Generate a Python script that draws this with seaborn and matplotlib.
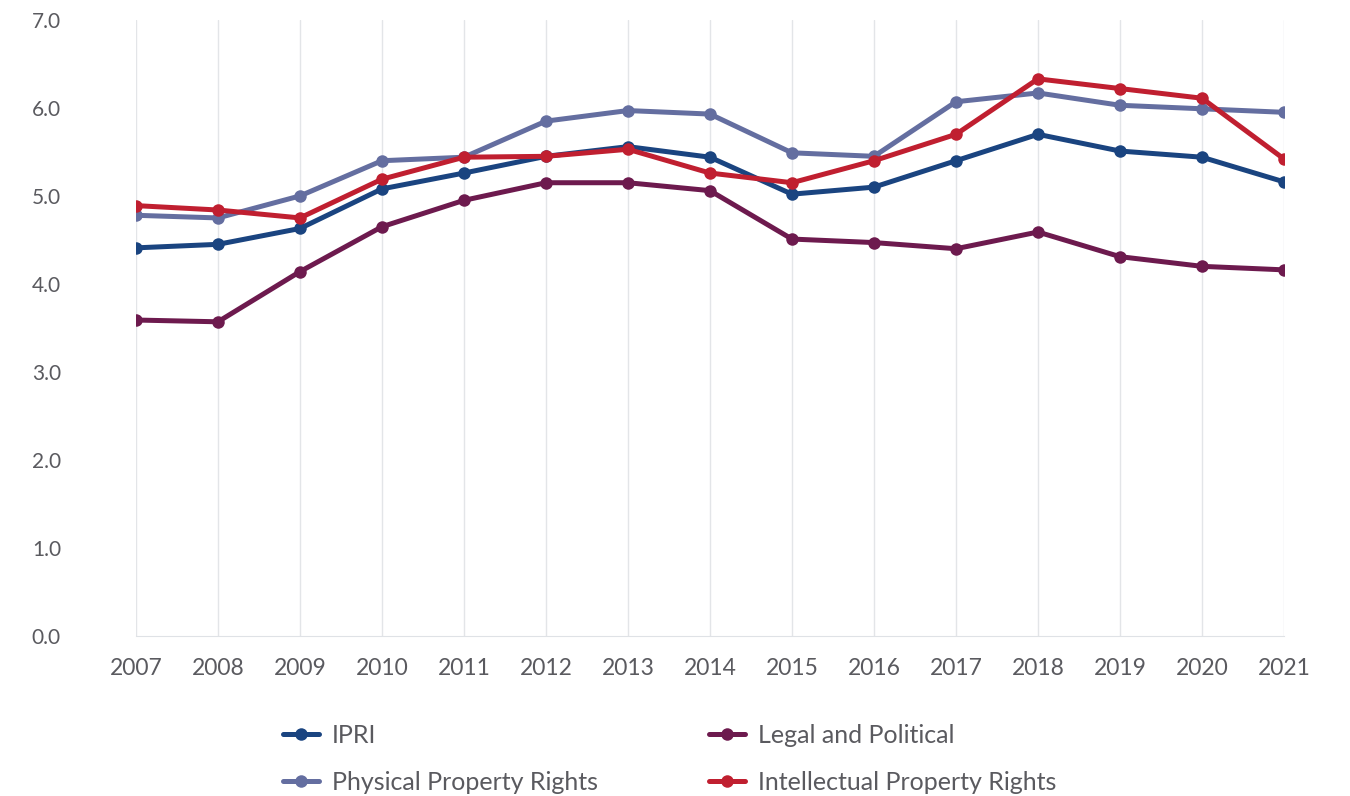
import matplotlib.pyplot as plt
import pandas as pd
import seaborn as sns

years = list(range(2007, 2022))
ipri = [4.41, 4.45, 4.63, 5.08, 5.26, 5.45, 5.56, 5.44, 5.02, 5.10, 5.40, 5.70, 5.51, 5.44, 5.16]
legal = [3.59, 3.57, 4.14, 4.65, 4.95, 5.15, 5.15, 5.06, 4.51, 4.47, 4.40, 4.59, 4.31, 4.20, 4.16]
physical = [4.78, 4.75, 5.00, 5.40, 5.44, 5.85, 5.97, 5.93, 5.49, 5.45, 6.07, 6.17, 6.03, 5.99, 5.95]
intellectual = [4.89, 4.84, 4.75, 5.19, 5.44, 5.45, 5.53, 5.26, 5.15, 5.40, 5.70, 6.33, 6.22, 6.11, 5.42]

series_names = ['IPRI', 'Legal and Political', 'Physical Property Rights', 'Intellectual Property Rights']
colors = ['#1a4480', '#6d1a4e', '#646ea0', '#c01f30']

# long form table for seaborn
df = pd.DataFrame({
    'year': years * 4,
    'value': ipri + legal + physical + intellectual,
    'series': [n for n in series_names for _ in years],
})

sns.set_style('white')
plt.rcParams['font.family'] = ['Lato', 'DejaVu Sans']

fig = plt.figure(figsize=(13.5, 7.96), dpi=100)
ax = fig.add_axes([0.1007, 0.201, 0.8504, 0.774])

sns.lineplot(data=df, x='year', y='value', hue='series', hue_order=series_names,
             palette=colors, marker='o', markersize=9, markeredgewidth=0,
             linewidth=3.6, ax=ax, legend=False)

ax.set_xlim(2007, 2021)
ax.set_ylim(0, 7)
ax.set_xticks(years)
ax.set_yticks([0, 1, 2, 3, 4, 5, 6, 7])
ax.set_yticklabels([f'{v:.1f}' for v in range(8)])
ax.set_xlabel('')
ax.set_ylabel('')
ax.grid(axis='x', color='#e3e5e8', linewidth=1)
ax.grid(axis='y', visible=False)
for s in ['top', 'right', 'left']:
    ax.spines[s].set_visible(False)
ax.spines['bottom'].set_color('#dfe2e6')
ax.tick_params(axis='both', length=0, colors='#5a5a5f')
ax.tick_params(axis='x', pad=16, labelsize=16.5)
ax.tick_params(axis='y', pad=75, labelsize=15)
for lbl in ax.get_yticklabels():
    lbl.set_horizontalalignment('left')

# legend, order: IPRI, Physical | Legal, Intellectual
handles = [plt.Line2D([], [], color=c, marker='o', markersize=9, linewidth=3.6, markeredgewidth=0)
           for c in colors]
order = [0, 2, 1, 3]
fig.legend([handles[i] for i in order], [series_names[i] for i in order],
           loc='center', bbox_to_anchor=(0.496, 0.0465), ncol=2, frameon=False,
           fontsize=18, labelcolor='#5a5a5f', handlelength=1.45, columnspacing=4.45,
           labelspacing=0.96, handletextpad=0.52)

plt.savefig('out.png', dpi=100)
